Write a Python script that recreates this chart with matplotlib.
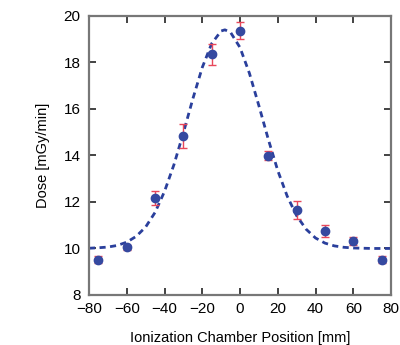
import matplotlib
matplotlib.use("Agg")
import matplotlib.pyplot as plt

# measured points
pos = [-75, -60, -45, -30, -15, 0, 15, 30, 45, 60, 75]
dose = [9.52, 10.05, 12.15, 14.84, 18.35, 19.36, 13.99, 11.65, 10.75, 10.32, 9.52]
err = [0.15, 0.10, 0.30, 0.52, 0.46, 0.36, 0.20, 0.37, 0.27, 0.18, 0.15]

# fitted curve
fit_x = [-80, -75, -70, -65, -60, -55, -50, -45, -40, -35, -30, -25, -20, -15, -10, -8,
         -5, 0, 5, 10, 15, 20, 25, 30, 35, 40, 45, 50, 55, 60, 65, 70, 75, 80]
fit_y = [10.01, 10.03, 10.06, 10.13, 10.27, 10.52, 10.92, 11.55, 12.45, 13.60, 14.97,
         16.43, 17.78, 18.81, 19.35, 19.40, 19.29, 18.64, 17.53, 16.14, 14.69, 13.35,
         12.25, 11.41, 10.83, 10.45, 10.23, 10.11, 10.05, 10.02, 10.01, 10.0, 10.0, 10.0]

plt.rcParams['font.family'] = ['Liberation Sans', 'DejaVu Sans']

fig = plt.figure(figsize=(4.0, 3.45), dpi=100)
ax = fig.add_axes([0.2225, 0.145, 0.755, 0.809])

ax.plot(fit_x, fit_y, color='#2a3f9c', lw=2.0, dashes=(2.2, 1.6), zorder=2)
ax.errorbar(pos, dose, yerr=err, fmt='none', ecolor='#e8475a', elinewidth=1.0,
            capsize=3, capthick=1.0, zorder=3)
ax.plot(pos, dose, 'o', color='#3549a0', ms=6, zorder=4)

ax.set_xlim(-80, 80)
ax.set_ylim(8, 20)
ax.set_xticks(range(-80, 81, 20))
ax.set_yticks(range(8, 21, 2))
ax.tick_params(direction='in', top=True, right=True, length=5, width=1.2,
               labelsize=11, color='#222222')
ax.tick_params(axis='x', pad=5)
ax.tick_params(axis='y', pad=6)
for lbl in ax.get_yticklabels():
    lbl.set_verticalalignment('center_baseline')
for s in ax.spines.values():
    s.set_color('#777777')
    s.set_linewidth(1.6)

ax.set_xlabel('Ionization Chamber Position [mm]', fontsize=10.5, labelpad=11)
ax.set_ylabel('Dose [mGy/min]', fontsize=10.5, labelpad=10)

fig.savefig('out.png', dpi=100)
